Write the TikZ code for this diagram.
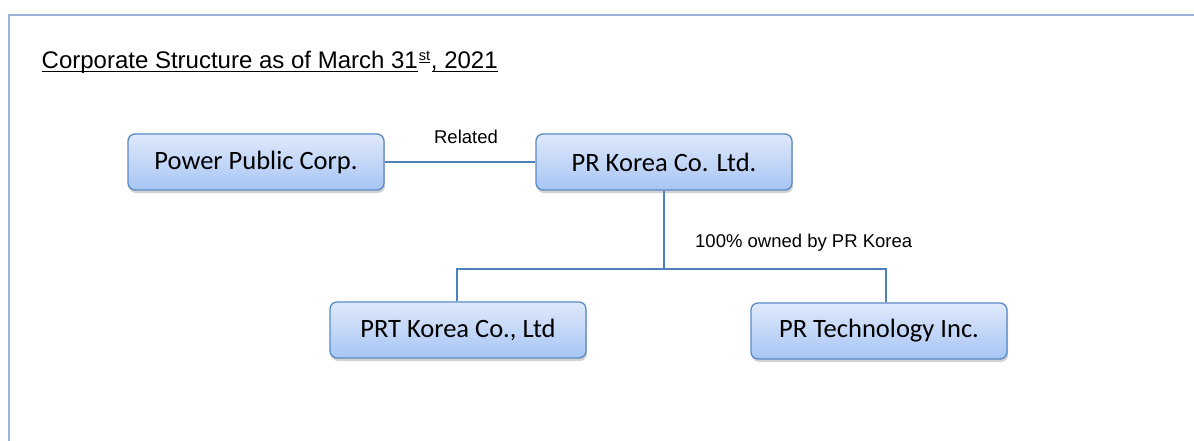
\documentclass[tikz,border=0pt]{standalone}
\usepackage{fontspec}
\setmainfont{Liberation Sans}
\newfontfamily\boxfont{Carlito}
\usetikzlibrary{shadows,calc}
\definecolor{framec}{HTML}{9AB5DA}
\definecolor{linec}{HTML}{4F81BD}
\definecolor{boxtop}{HTML}{DFE9FB}
\definecolor{boxbot}{HTML}{A7C5F4}
\definecolor{boxdraw}{HTML}{5A8AC6}
\tikzset{
  orgbox/.style={draw=boxdraw, line width=1.3pt, rounded corners=7pt,
    top color=boxtop, bottom color=boxbot,
    drop shadow={opacity=0.35, shadow xshift=1pt, shadow yshift=-3pt},
    font=\boxfont\fontsize{26.5}{30}\selectfont, inner sep=0pt,
    minimum width=256pt, minimum height=56pt},
  conn/.style={draw=linec, line width=1.4pt},
  lbl/.style={font=\fontsize{18.5}{20}\selectfont, inner sep=0pt},
  ttl/.style={font=\fontsize{24}{27}\selectfont, inner sep=0pt, anchor=base west},
  uline/.style={draw=black, line width=1.6pt}
}
\begin{document}
\begin{tikzpicture}[x=1pt,y=-1pt]
\useasboundingbox (0,0) rectangle (1194,441);
\fill[white] (0,0) rectangle (1194,441);
\draw[framec, line width=2pt] (9,441) -- (9,15) -- (1194,15);
\node[ttl] (t1) at (41.5,68.3) {Corporate Structure as of March 31};
\node[ttl, font=\fontsize{14.5}{16}\selectfont] (t2) at ($(t1.base east)+(0.5,-7.5)$) {st};
\node[ttl] (t3) at ($(t1.base east)+(t2.base east)-(t2.base west)+(1,0)$) {, 2021};
\draw[uline] (t1.base west |- 0,71.7) -- (t1.base east |- 0,71.7);
\draw[uline, line width=1pt] ($(t2.base west)+(0,2)$) -- ($(t2.base east)+(0,2)$);
\draw[uline] ($(t3.base west)+(1.5,3.4)$) -- ($(t3.base east)+(0,3.4)$);
\node[orgbox] (ppc) at (256,162) {Power Public Corp.};
\node[orgbox] (prk) at (664,162) {PR Korea Co. Ltd.};
\node[orgbox] (prt) at (458,330) {PRT Korea Co., Ltd};
\node[orgbox] (prtech) at (879,331) {PR Technology Inc.};
\draw[conn] (ppc.east) -- (prk.west);
\node[lbl, anchor=base] (rel) at (466,143) {Related};
\coordinate (j) at (prk.south |- 0,269);
\draw[conn] (prk.south) -- (j);
\draw[conn] (prt.north -| 457,0) -- (457,269) -- (886,269) -- (prtech.north -| 886,0);
\node[lbl, anchor=base west] (own) at (695,247) {100\% owned by PR Korea};
\end{tikzpicture}
\end{document}
